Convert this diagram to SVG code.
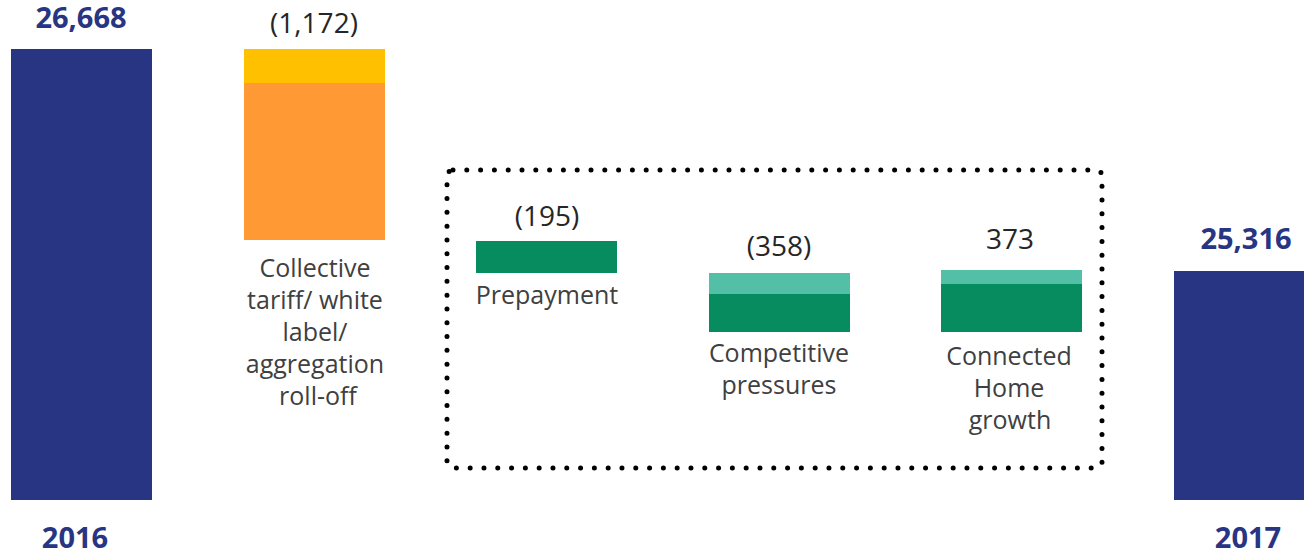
<svg xmlns="http://www.w3.org/2000/svg" width="1304" height="552" viewBox="0 0 1304 552">
<style>
.navy{fill:#283583}
.yel{fill:#FFC000}
.org{fill:#FF9933}
.grn{fill:#078C60}
.lgr{fill:#52BFA6}
.tot{font-family:"Open Sans","Liberation Sans",sans-serif;font-weight:bold;font-size:29px;fill:#283583;text-anchor:middle}
.num{font-family:"Open Sans","Liberation Sans",sans-serif;font-size:28px;fill:#262626;text-anchor:middle}
.lbl{font-family:"Open Sans","Liberation Sans",sans-serif;font-size:25px;fill:#404040;text-anchor:middle}
.frame{fill:none;stroke:#000;stroke-width:5;stroke-linecap:round;stroke-dasharray:0 13.8}
</style>
<rect width="1304" height="552" fill="#fff"/>
<g id="frame">
<rect class="frame" x="447" y="170" width="655" height="298" rx="6"/>
</g>
<g id="bar2016">
<rect class="navy" x="11" y="49" width="141" height="451"/>
<text class="tot" x="81" y="28">26,668</text>
<text class="tot" x="75" y="548">2016</text>
</g>
<g id="collective">
<rect class="yel" x="244" y="49" width="141" height="34"/>
<rect class="org" x="244" y="83" width="141" height="157"/>
<text class="num" x="314" y="33">(1,172)</text>
<text class="lbl" x="315" y="277">Collective</text>
<text class="lbl" x="315" y="309">tariff/ white</text>
<text class="lbl" x="315" y="341">label/</text>
<text class="lbl" x="315" y="373">aggregation</text>
<text class="lbl" x="318" y="405">roll-off</text>
</g>
<g id="prepayment">
<rect class="grn" x="476" y="241" width="141" height="32"/>
<text class="num" x="547" y="226">(195)</text>
<text class="lbl" x="547" y="304">Prepayment</text>
</g>
<g id="competitive">
<rect class="lgr" x="709" y="273" width="141" height="21"/>
<rect class="grn" x="709" y="294" width="141" height="38"/>
<text class="num" x="779" y="256">(358)</text>
<text class="lbl" x="779" y="362">Competitive</text>
<text class="lbl" x="779" y="394">pressures</text>
</g>
<g id="connected">
<rect class="lgr" x="941" y="270" width="141" height="14"/>
<rect class="grn" x="941" y="284" width="141" height="48"/>
<text class="num" x="1010" y="249">373</text>
<text class="lbl" x="1009" y="365">Connected</text>
<text class="lbl" x="1009" y="397">Home</text>
<text class="lbl" x="1010" y="429">growth</text>
</g>
<g id="bar2017">
<rect class="navy" x="1174" y="271" width="130" height="229"/>
<text class="tot" x="1246" y="249">25,316</text>
<text class="tot" x="1248" y="548">2017</text>
</g>
</svg>
